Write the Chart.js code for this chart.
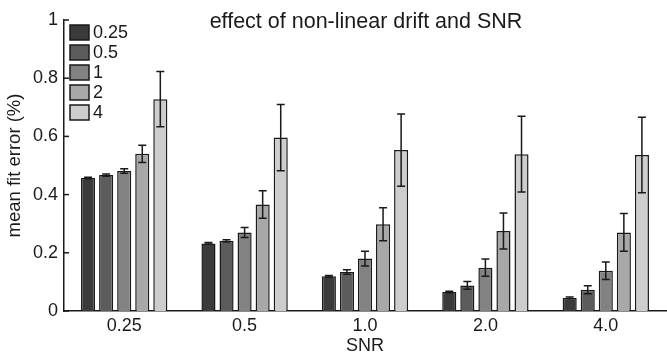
<!DOCTYPE html>
<html>
<head>
<meta charset="utf-8">
<script src="https://cdn.jsdelivr.net/npm/chart.js@4/dist/chart.umd.min.js"></script>
<style>
  html, body { margin: 0; padding: 0; background: #fff; }
  #wrap { width: 667px; height: 357px; }
</style>
</head>
<body>
<div id="wrap"><canvas id="myChart"></canvas></div>
<script>
// SNR categories on the x axis
const snrLabels = ['0.25', '0.5', '1.0', '2.0', '4.0'];
// drift levels (legend)
const driftLabels = ['0.25', '0.5', '1', '2', '4'];
const yTicks = [0, 0.2, 0.4, 0.6, 0.8, 1];

// mean fit error per drift level, across SNR
const drift025 = [0.457, 0.232, 0.119, 0.065, 0.045];
const drift05 = [0.467, 0.241, 0.134, 0.088, 0.073];
const drift1 = [0.481, 0.270, 0.180, 0.149, 0.138];
const drift2 = [0.540, 0.366, 0.298, 0.275, 0.270];
const drift4 = [0.728, 0.596, 0.553, 0.539, 0.536];

// error bar half widths
const err025 = [0.003, 0.003, 0.003, 0.003, 0.003];
const err05 = [0.004, 0.004, 0.008, 0.013, 0.014];
const err1 = [0.008, 0.017, 0.025, 0.030, 0.030];
const err2 = [0.030, 0.047, 0.057, 0.062, 0.065];
const err4 = [0.095, 0.114, 0.124, 0.130, 0.130];

const barColors = ['#3b3b3b', '#5c5c5c', '#828282', '#a8a8a8', '#cdcdcd'];
const FONT = '"Liberation Sans", Arial, Helvetica, sans-serif';

const seriesValues = [drift025, drift05, drift1, drift2, drift4];
const seriesErrors = [err025, err05, err1, err2, err4];

// error bars drawn from the scales
const errorBars = {
  id: 'errorBars',
  afterDatasetsDraw(chart) {
    const ctx = chart.ctx;
    const yScale = chart.scales.y;
    ctx.save();
    ctx.strokeStyle = '#1a1a1a';
    ctx.lineWidth = 1.5;
    chart.data.datasets.forEach((ds, i) => {
      const meta = chart.getDatasetMeta(i);
      meta.data.forEach((bar, j) => {
        const v = ds.data[j];
        const e = seriesErrors[i][j];
        const top = yScale.getPixelForValue(v + e);
        const bot = yScale.getPixelForValue(v - e);
        ctx.beginPath();
        ctx.moveTo(bar.x, top);
        ctx.lineTo(bar.x, bot);
        ctx.moveTo(bar.x - 4, top);
        ctx.lineTo(bar.x + 4, top);
        ctx.moveTo(bar.x - 4, bot);
        ctx.lineTo(bar.x + 4, bot);
        ctx.stroke();
      });
    });
    ctx.restore();
  }
};

// inward tick marks on the y axis, legend and title
const decorations = {
  id: 'decorations',
  afterDraw(chart) {
    const ctx = chart.ctx;
    const area = chart.chartArea;
    const yScale = chart.scales.y;
    ctx.save();
    ctx.strokeStyle = '#1a1a1a';
    ctx.lineWidth = 1.5;
    yTicks.forEach(t => {
      const py = yScale.getPixelForValue(t);
      ctx.beginPath();
      ctx.moveTo(area.left, py);
      ctx.lineTo(area.left + 5, py);
      ctx.stroke();
    });

    // legend
    ctx.font = '18px ' + FONT;
    ctx.textBaseline = 'middle';
    ctx.fillStyle = '#1a1a1a';
    chart.data.datasets.forEach((ds, i) => {
      const bx = area.left + 6;
      const by = area.top + 5 + i * 20;
      ctx.fillStyle = ds.backgroundColor;
      ctx.fillRect(bx, by, 19, 15);
      ctx.strokeRect(bx, by, 19, 15);
      ctx.fillStyle = '#1a1a1a';
      ctx.fillText(ds.label, bx + 23, by + 8);
    });

    // title
    ctx.font = '21.5px ' + FONT;
    ctx.textAlign = 'center';
    ctx.fillText('effect of non-linear drift and SNR', 366, 22);
    ctx.restore();
  }
};

new Chart('myChart', {
  type: 'bar',
  data: {
    labels: snrLabels,
    datasets: driftLabels.map((lab, i) => ({
      label: lab,
      data: seriesValues[i],
      backgroundColor: barColors[i],
      borderColor: '#1a1a1a',
      borderWidth: 1.5,
      categoryPercentage: 0.75,
      barPercentage: 0.78
    }))
  },
  options: {
    responsive: true,
    maintainAspectRatio: false,
    animation: false,
    devicePixelRatio: 1,
    layout: { padding: { top: 20, right: 1, left: 0, bottom: 0 } },
    plugins: {
      legend: { display: false },
      tooltip: { enabled: false }
    },
    scales: {
      x: {
        grid: { display: false, drawTicks: false },
        border: { display: true, color: '#1a1a1a', width: 1.5 },
        ticks: { color: '#1a1a1a', padding: 4, font: { family: FONT, size: 18 } },
        title: { display: true, text: 'SNR', color: '#1a1a1a', padding: { top: 0, bottom: 0 }, font: { family: FONT, size: 18 } },
        afterFit(scale) { scale.height = 46; }
      },
      y: {
        min: 0,
        max: 1,
        afterBuildTicks(scale) { scale.ticks = yTicks.map(v => ({ value: v })); },
        grid: { display: false, drawTicks: false },
        border: { display: true, color: '#1a1a1a', width: 1.5 },
        ticks: {
          color: '#1a1a1a',
          padding: 6,
          font: { family: FONT, size: 18 },
          callback: v => String(Math.round(v * 10) / 10)
        },
        title: { display: true, text: 'mean fit error (%)', color: '#1a1a1a', padding: { top: 4, bottom: 0 }, font: { family: FONT, size: 18.5 } },
        afterFit(scale) { scale.width = 64; }
      }
    }
  },
  plugins: [errorBars, decorations]
});
</script>
</body>
</html>
